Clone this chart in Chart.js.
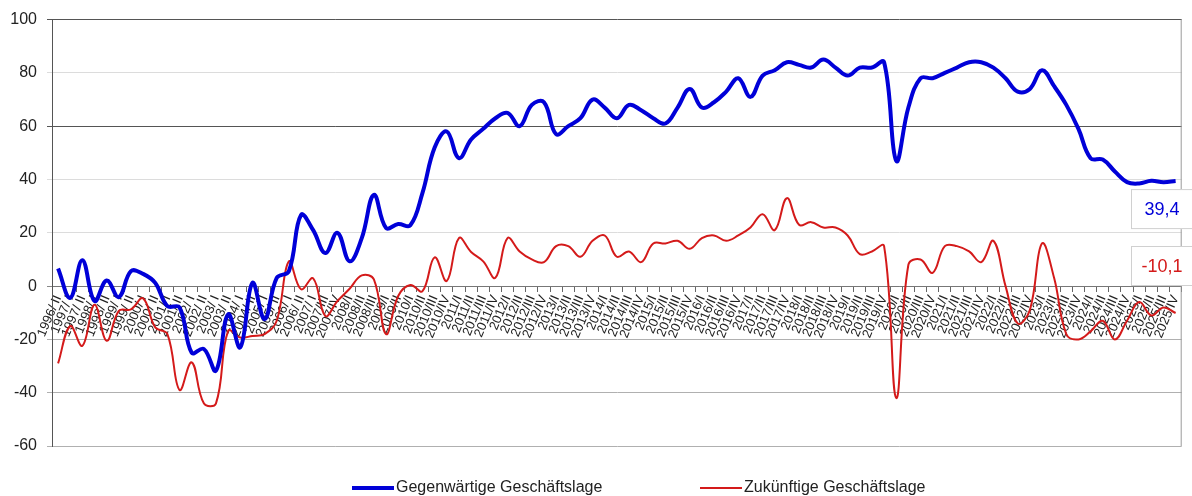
<!DOCTYPE html>
<html>
<head>
<meta charset="utf-8">
<script src="https://cdn.jsdelivr.net/npm/chart.js@4"></script>
<style>
  html, body { margin: 0; padding: 0; background: #fff; }
</style>
</head>
<body>
<canvas id="grafico" width="1192" height="496"></canvas>
<script>
// etiquetas del eje x (halbjährlich bis 2007, dann quartalsweise)
const etiquetas = [
  "1996/ II","1997/ I","1997/ II","1998/ I","1998/ II","1999/ I","1999/ II","2000/ I","2000/ II",
  "2001/ I","2001/ II","2002/ I","2002/ II","2003/ I","2003/ II","2004/ I","2004/ II","2005/ I",
  "2005/ II","2006/ I","2006/ II","2007/ I","2007/III","2007/IV","2008/I","2008/II","2008/III",
  "2009/I","2009/II",
  "2010/I","2010/II","2010/III","2010/IV","2011/I","2011/II","2011/III","2011/IV",
  "2012/I","2012/II","2012/III","2012/IV","2013/I","2013/II","2013/III","2013/IV",
  "2014/I","2014/II","2014/III","2014/IV","2015/I","2015/II","2015/III","2015/IV",
  "2016/I","2016/II","2016/III","2016/IV","2017/I","2017/II","2017/III","2017/IV",
  "2018/I","2018/II","2018/III","2018/IV","2019/I","2019/II","2019/III","2019/IV",
  "2020/I","2020/II","2020/III","2020/IV","2021/I","2021/II","2021/III","2021/IV",
  "2022/I","2022/II","2022/III","2022/IV","2023/I","2023/II","2023/III","2023/IV",
  "2024/I","2024/II","2024/III","2024/IV","2025/I","2025/II","2025/III","2025/IV"
];

// Gegenwärtige Geschäftslage
const gegenwaertig = [
  6.6, -4.4, 9.7, -5.6, 2.1, -4.1, 5.6, 4.6, 1.2, -7.5,
  -8, -25, -23.6, -31.7, -10.6, -23, 1.2, -12.4, 3.1, 5.6,
  26.7, 21, 12.4, 20, 9.3, 18, 34.2, 21.8, 23.3, 22.8,
  35, 52, 58, 48, 55, 59, 63, 65, 60, 68,
  69, 57, 60, 63, 70, 67, 63, 68, 66, 63,
  61, 67, 74, 67, 69, 73, 78, 71, 79, 81,
  84, 83, 82, 85, 82, 79, 82, 82, 84, 47,
  67, 78, 78, 80, 82, 84, 84, 82, 78, 73,
  74, 81, 75, 68, 59, 48, 47.5, 43, 39, 38.5,
  39.5, 39, 39.4
];

// Zukünftige Geschäftslage
const zukuenftig = [
  -29, -15, -22.4, -7, -20.5, -9.3, -8.7, -4.6, -15.5, -18,
  -39, -28.6, -44, -44, -16.8, -19.3, -18.7, -18, -13, 9.3,
  -1.2, 2.9, -11.2, -5.6, -1, 4, 2.5, -18, -3.7, 0.4,
  -1.9, 10.8, 1.9, 18, 12.8, 9.3, 3.1, 18, 13, 10,
  9, 15, 15, 11, 17, 19, 11, 13, 9, 16,
  16, 17, 14, 18, 19, 17, 19, 22, 27, 21,
  33, 23, 24, 22, 22, 19, 12, 13, 15, -42,
  8, 10, 5, 15, 15, 13, 9, 17, 0, -14,
  -9, 16, 3, -18, -20, -17, -13, -20, -13, -6,
  -11, -8, -10.1
];

const nombres = ["Gegenwärtige Geschäftslage", "Zukünftige Geschäftslage"];
const colores = ["#0000d8", "#d41a1a"];
const grosores = [4, 2];

// etiquetas con el último valor (cajitas a la derecha)
const cajas = {
  id: "cajas",
  afterDatasetsDraw(chart) {
    const ctx = chart.ctx;
    const offs = [28, -47];
    chart.data.datasets.forEach(function(ds, i) {
      let meta = chart.getDatasetMeta(i);
      let last = meta.data[meta.data.length - 1];
      let valor = ds.data[ds.data.length - 1];
      let cy = last.y + offs[i];
      ctx.save();
      ctx.fillStyle = "#fff";
      ctx.strokeStyle = "#d0d0d0";
      ctx.lineWidth = 1;
      ctx.fillRect(1131, cy - 20, 70, 40);
      ctx.strokeRect(1131.5, cy - 19.5, 70, 39);
      ctx.fillStyle = colores[i];
      ctx.font = "18px 'Liberation Sans', Arial, sans-serif";
      ctx.textAlign = "center";
      ctx.textBaseline = "middle";
      ctx.fillText(valor.toFixed(1).replace(".", ","), 1162, cy + 1);
      ctx.restore();
    });
  }
};

// leyenda dibujada a mano abajo
const leyenda = {
  id: "leyenda",
  afterDraw(chart) {
    const ctx = chart.ctx;
    const xs = [352, 700];
    ctx.save();
    ctx.font = "16px 'Liberation Sans', Arial, sans-serif";
    ctx.textBaseline = "middle";
    for (let i = 0; i < 2; i++) {
      ctx.strokeStyle = colores[i];
      ctx.lineWidth = grosores[i];
      ctx.beginPath();
      ctx.moveTo(xs[i], 488);
      ctx.lineTo(xs[i] + 42, 488);
      ctx.stroke();
      ctx.fillStyle = "#222";
      ctx.fillText(nombres[i], xs[i] + 44, 488);
    }
    ctx.restore();
  }
};

// borde derecho del área
const marco = {
  id: "marco",
  beforeDatasetsDraw(chart) {
    const a = chart.chartArea;
    const ctx = chart.ctx;
    ctx.save();
    ctx.strokeStyle = "#9a9a9a";
    ctx.lineWidth = 1;
    ctx.beginPath();
    ctx.moveTo(a.right - 0.5, a.top);
    ctx.lineTo(a.right - 0.5, a.bottom);
    ctx.stroke();
    ctx.restore();
  }
};

let cfg = {
  type: "line",
  data: {
    labels: etiquetas,
    datasets: [
      { label: nombres[0], data: gegenwaertig, borderColor: colores[0], borderWidth: grosores[0], pointRadius: 0, tension: 0.4, fill: false },
      { label: nombres[1], data: zukuenftig, borderColor: colores[1], borderWidth: grosores[1], pointRadius: 0, tension: 0.4, fill: false }
    ]
  },
  options: {
    responsive: false,
    animation: false,
    layout: { padding: { top: 17, right: 4, bottom: 50, left: 0 } },
    plugins: {
      legend: { display: false },
      tooltip: { enabled: false }
    },
    scales: {
      x: {
        position: { y: 0 },
        offset: true,
        grid: { offset: true, drawOnChartArea: false, drawTicks: true, tickLength: 5, color: "#666" },
        border: { display: true, color: "#777", width: 1 },
        ticks: {
          autoSkip: false, minRotation: 67, maxRotation: 67, padding: 2,
          color: "#222", font: { family: "'Liberation Sans', Arial, sans-serif", size: 13 }
        }
      },
      y: {
        min: -60, max: 100,
        afterFit: function(scale) { scale.width = 52; },
        ticks: {
          stepSize: 20, padding: 10, color: "#222",
          font: { family: "'Liberation Sans', Arial, sans-serif", size: 16 }
        },
        grid: {
          tickLength: 5,
          color: function(c) {
            let v = c.tick ? c.tick.value : null;
            if (v === 60 || v === 100) return "#555";
            if (v === 0) return "#888";
            if (v < 0) return "#b0b0b0";
            return "#dcdcdc";
          }
        },
        border: { display: true, color: "#555", width: 1 }
      }
    }
  },
  plugins: [marco, cajas, leyenda]
};

let draw = new Chart(document.getElementById("grafico"), cfg);
</script>
</body>
</html>
